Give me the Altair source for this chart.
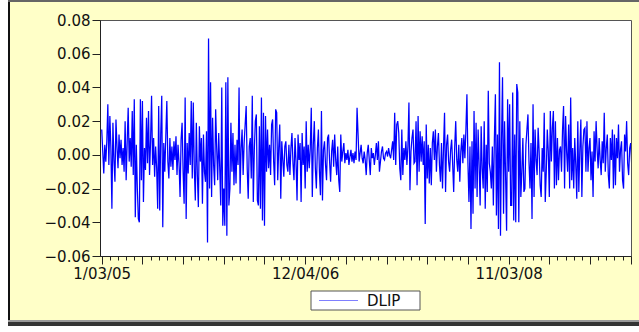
import altair as alt
import pandas as pd

# ---- data (one value per ~2.5 trading days) ----
dlip_part1 = [
    0.015, 0.002, -0.011, 0.006, -0.004, 0.008, 0.030, -0.006, 0.023, 0.004,
    -0.032, 0.019, -0.003, -0.016, 0.021, 0.005, -0.008, 0.012, -0.002, 0.009,
    -0.006, 0.004, -0.010, 0.020, -0.015, 0.007, 0.028, -0.004, 0.010, -0.007,
    0.026, -0.012, 0.033, -0.037, 0.006, -0.020, -0.038, -0.040, 0.033, -0.015,
    0.032, -0.028, 0.004, -0.009, 0.022, -0.005, 0.026, -0.012, 0.008, 0.035,
    -0.006, 0.010, -0.013, 0.005, -0.008, -0.032, 0.029, -0.033, 0.012, 0.035,
    -0.043, 0.007, -0.010, 0.011, 0.032, -0.004, -0.014, 0.010, -0.007, 0.005,
    -0.009, 0.008, -0.003, 0.011, -0.012, 0.006, -0.005, -0.025, 0.009, 0.019,
    -0.010, -0.029, 0.034, -0.038, 0.007, -0.011, 0.013, -0.006, 0.032, -0.014,
    0.031, -0.008, -0.027, 0.019, -0.012, -0.031, 0.017, -0.004, 0.010, -0.029,
    0.012, -0.010, -0.016, 0.014,
]
dlip_part2 = [
    -0.052, 0.069, -0.020, 0.043, -0.025, 0.022, -0.006, -0.018, 0.027, 0.004,
    -0.015, 0.013, -0.008, -0.030, 0.040, -0.042, -0.020, -0.042, 0.043, -0.048,
    0.046, -0.030, -0.020, 0.019, -0.010, 0.013, -0.018, 0.006, -0.017, 0.009,
    -0.006, 0.040, -0.023, 0.004, 0.015, -0.012, 0.007, 0.018, 0.029, -0.008,
    -0.026, 0.005, 0.010, -0.014, 0.035, -0.028, 0.003, 0.020, 0.024, -0.027,
    -0.030, 0.017, -0.032, 0.034, -0.039, 0.025, -0.042, 0.023, -0.010, 0.015,
    -0.008, 0.006, -0.012, 0.018, 0.021, -0.004, -0.018, 0.027, 0.025, -0.015,
    0.004, 0.018, -0.026, 0.008, -0.003, -0.013, 0.005, 0.008, -0.006, -0.010,
    0.006, -0.012, 0.004, 0.013, -0.005, -0.015, 0.010, -0.004, -0.027, 0.012,
    -0.003, 0.007, -0.028, 0.013, -0.006, 0.005, -0.020, 0.020, -0.010, 0.006,
    -0.008, 0.004, 0.028, -0.025,
]
dlip_part3 = [
    0.006, 0.020, -0.008, -0.020, 0.004, 0.015, -0.010, -0.024, 0.026, -0.027,
    0.003, 0.008, -0.006, -0.015, 0.010, 0.012, -0.004, -0.016, 0.002, 0.009,
    -0.007, 0.012, -0.003, -0.012, 0.005, -0.015, -0.022, 0.012, -0.004, 0.002,
    0.007, -0.005, 0.001, -0.003, 0.003, -0.006, -0.001, 0.003, -0.004, 0.001,
    -0.005, 0.002, -0.003, 0.028, 0.012, -0.004, 0.001, 0.006, -0.002, -0.005,
    0.002, -0.003, -0.012, 0.001, 0.006, -0.003, -0.012, 0.004, -0.002, 0.001,
    -0.006, 0.000, 0.007, -0.003, 0.008, -0.010, -0.004, 0.002, 0.005, -0.002,
    -0.003, 0.001, 0.002, -0.001, 0.004, 0.000, -0.002, 0.003, 0.008, -0.003,
    0.025, -0.006, 0.018, 0.020, 0.013, -0.008, -0.015, 0.015, -0.012, 0.004,
    -0.003, 0.008, -0.006, 0.005, 0.031, -0.021, 0.002, 0.010, 0.015, -0.005,
    -0.004, 0.020, -0.018, 0.023,
]
dlip_part4 = [
    -0.010, 0.014, -0.004, 0.011, -0.006, 0.008, -0.041, 0.018, -0.014, 0.006,
    -0.017, 0.004, -0.018, 0.007, 0.014, -0.003, 0.015, -0.010, 0.005, 0.013,
    -0.006, -0.016, 0.007, -0.020, 0.004, 0.025, -0.022, 0.006, 0.012, -0.004,
    -0.010, 0.003, 0.009, -0.006, -0.022, 0.005, 0.020, -0.003, -0.010, 0.006,
    -0.016, 0.002, 0.010, -0.005, 0.012, -0.002, 0.015, 0.036, -0.005, -0.028,
    0.005, -0.044, 0.008, -0.035, 0.026, -0.020, 0.019, -0.025, 0.015, -0.006,
    -0.030, 0.017, -0.008, -0.020, 0.020, -0.032, 0.006, -0.022, 0.038, -0.005,
    -0.010, -0.020, 0.005, -0.030, 0.010, 0.036, -0.036, 0.012, -0.044, 0.055,
    -0.048, 0.008, 0.046, -0.035, 0.020, -0.012, -0.045, 0.033, -0.010, 0.030,
    -0.030, -0.030, 0.037, -0.039, 0.012, -0.040, 0.042, 0.037, -0.040, 0.020,
    -0.025, -0.010, 0.010, -0.022,
]
dlip_part5 = [
    -0.020, 0.006, 0.015, 0.024, -0.004, -0.020, 0.007, -0.038, 0.030, -0.025,
    0.015, -0.003, -0.012, 0.016, 0.002, -0.018, -0.025, 0.004, -0.010, 0.025,
    -0.028, -0.010, 0.015, 0.002, -0.025, 0.026, -0.004, 0.016, 0.026, -0.020,
    0.020, -0.018, 0.010, -0.015, 0.003, 0.005, -0.010, 0.015, 0.029, -0.020,
    0.023, 0.002, -0.010, 0.018, -0.020, 0.034, -0.015, 0.004, -0.020, 0.010,
    -0.006, -0.026, 0.020, -0.022, 0.003, 0.021, -0.025, 0.005, 0.015, 0.016,
    -0.010, 0.020, -0.010, 0.004, 0.010, -0.015, 0.002, -0.025, 0.014, -0.004,
    0.020, 0.003, -0.008, 0.010, -0.003, -0.012, 0.008, -0.005, 0.025, -0.010,
    0.004, 0.012, -0.012, -0.020, 0.010, -0.003, 0.015, -0.020, 0.012, -0.018,
    0.010, -0.002, 0.018, -0.010, 0.003, 0.008, -0.015, -0.020, 0.012, 0.002,
    0.020, -0.005, -0.012, 0.004, 0.007, -0.006,
]

series_name = "DLIP"
x_label_positions = [0, 200, 400]
x_label_texts = ["1/03/05", "12/04/06", "11/03/08"]
y_tick_values = [-0.06, -0.04, -0.02, 0.0, 0.02, 0.04, 0.06, 0.08]

values = dlip_part1 + dlip_part2 + dlip_part3 + dlip_part4 + dlip_part5
df = pd.DataFrame({"obs": list(range(len(values))), "value": values, "series": series_name})

label_expr = " : ".join(
    f"datum.value == {p} ? '{t}'" for p, t in zip(x_label_positions, x_label_texts)
) + " : ''"
x_ticks = list(range(0, len(values), 8))

FONT = "DejaVu Sans"
FS = 15
W, H = 531, 236
LINE_COLOR = "#0000ff"

line = alt.Chart(df).mark_line(strokeWidth=1.25, clip=True, color=LINE_COLOR).encode(
    x=alt.X(
        "obs:Q",
        scale=alt.Scale(domain=[-1.7, 520.3], nice=False, zero=False),
        axis=alt.Axis(
            values=x_ticks,
            labelExpr=label_expr,
            title=None,
            grid=False,
            tickSize={"condition": {"test": "datum.value % 40 === 0", "value": 8}, "value": 4},
            tickColor="#222",
            domainColor="#222",
            labelOverlap=False,
            labelFlush=False,
            labelPadding=2,
            labelFont=FONT,
            labelFontSize=FS,
            labelColor="#111",
        ),
    ),
    y=alt.Y(
        "value:Q",
        scale=alt.Scale(domain=[-0.06, 0.08], nice=False, zero=False),
        axis=alt.Axis(
            values=y_tick_values,
            format=".2f",
            title=None,
            grid=False,
            tickSize=8,
            tickColor="#222",
            domainColor="#222",
            labelPadding=2,
            labelFont=FONT,
            labelFontSize=FS,
            labelColor="#111",
        ),
    ),
)

deco = alt.Chart(alt.Data(values=[{}]))
white_left = deco.mark_rect(color="white").encode(
    x=alt.value(-100), x2=alt.value(-92), y=alt.value(-20), y2=alt.value(312)
)
left_border = deco.mark_rect(color="#111").encode(
    x=alt.value(-92), x2=alt.value(-90), y=alt.value(-20), y2=alt.value(306)
)
top_border = deco.mark_rect(color="#666").encode(
    x=alt.value(-92), x2=alt.value(539), y=alt.value(-20), y2=alt.value(-18)
)
bottom_light = deco.mark_rect(color="#999").encode(
    x=alt.value(-92), x2=alt.value(539), y=alt.value(300), y2=alt.value(302)
)
bottom_dark = deco.mark_rect(color="#333").encode(
    x=alt.value(-92), x2=alt.value(539), y=alt.value(302), y2=alt.value(306)
)
bottom_white = deco.mark_rect(color="white").encode(
    x=alt.value(-100), x2=alt.value(539), y=alt.value(306), y2=alt.value(312)
)

# legend box (drawn by hand, EViews style)
legend_box = deco.mark_rect(fill="white", stroke="#555", strokeWidth=1).encode(
    x=alt.value(211), x2=alt.value(320), y=alt.value(271), y2=alt.value(290)
)
legend_line = deco.mark_rule(color=LINE_COLOR, strokeWidth=1, opacity=0.5).encode(
    x=alt.value(219), x2=alt.value(258), y=alt.value(280.5)
)
legend_text = alt.Chart(alt.Data(values=[{"label": series_name}])).mark_text(
    align="left", baseline="middle", font=FONT, fontSize=FS, color="#111"
).encode(x=alt.value(267), y=alt.value(281), text="label:N")

chart = alt.layer(
    white_left, left_border, top_border, bottom_light, bottom_dark, bottom_white,
    legend_box, legend_line, legend_text, line
).properties(
    width=W,
    height=H,
    autosize=alt.AutoSizeParams(type="none"),
    padding={"left": 100, "top": 20, "right": 8, "bottom": 76},
).configure(
    background="#ffffc8",
).configure_view(
    fill="white", stroke="#555", strokeWidth=1
)

chart.save("out.html", embed_options={"renderer": "svg", "actions": False})
